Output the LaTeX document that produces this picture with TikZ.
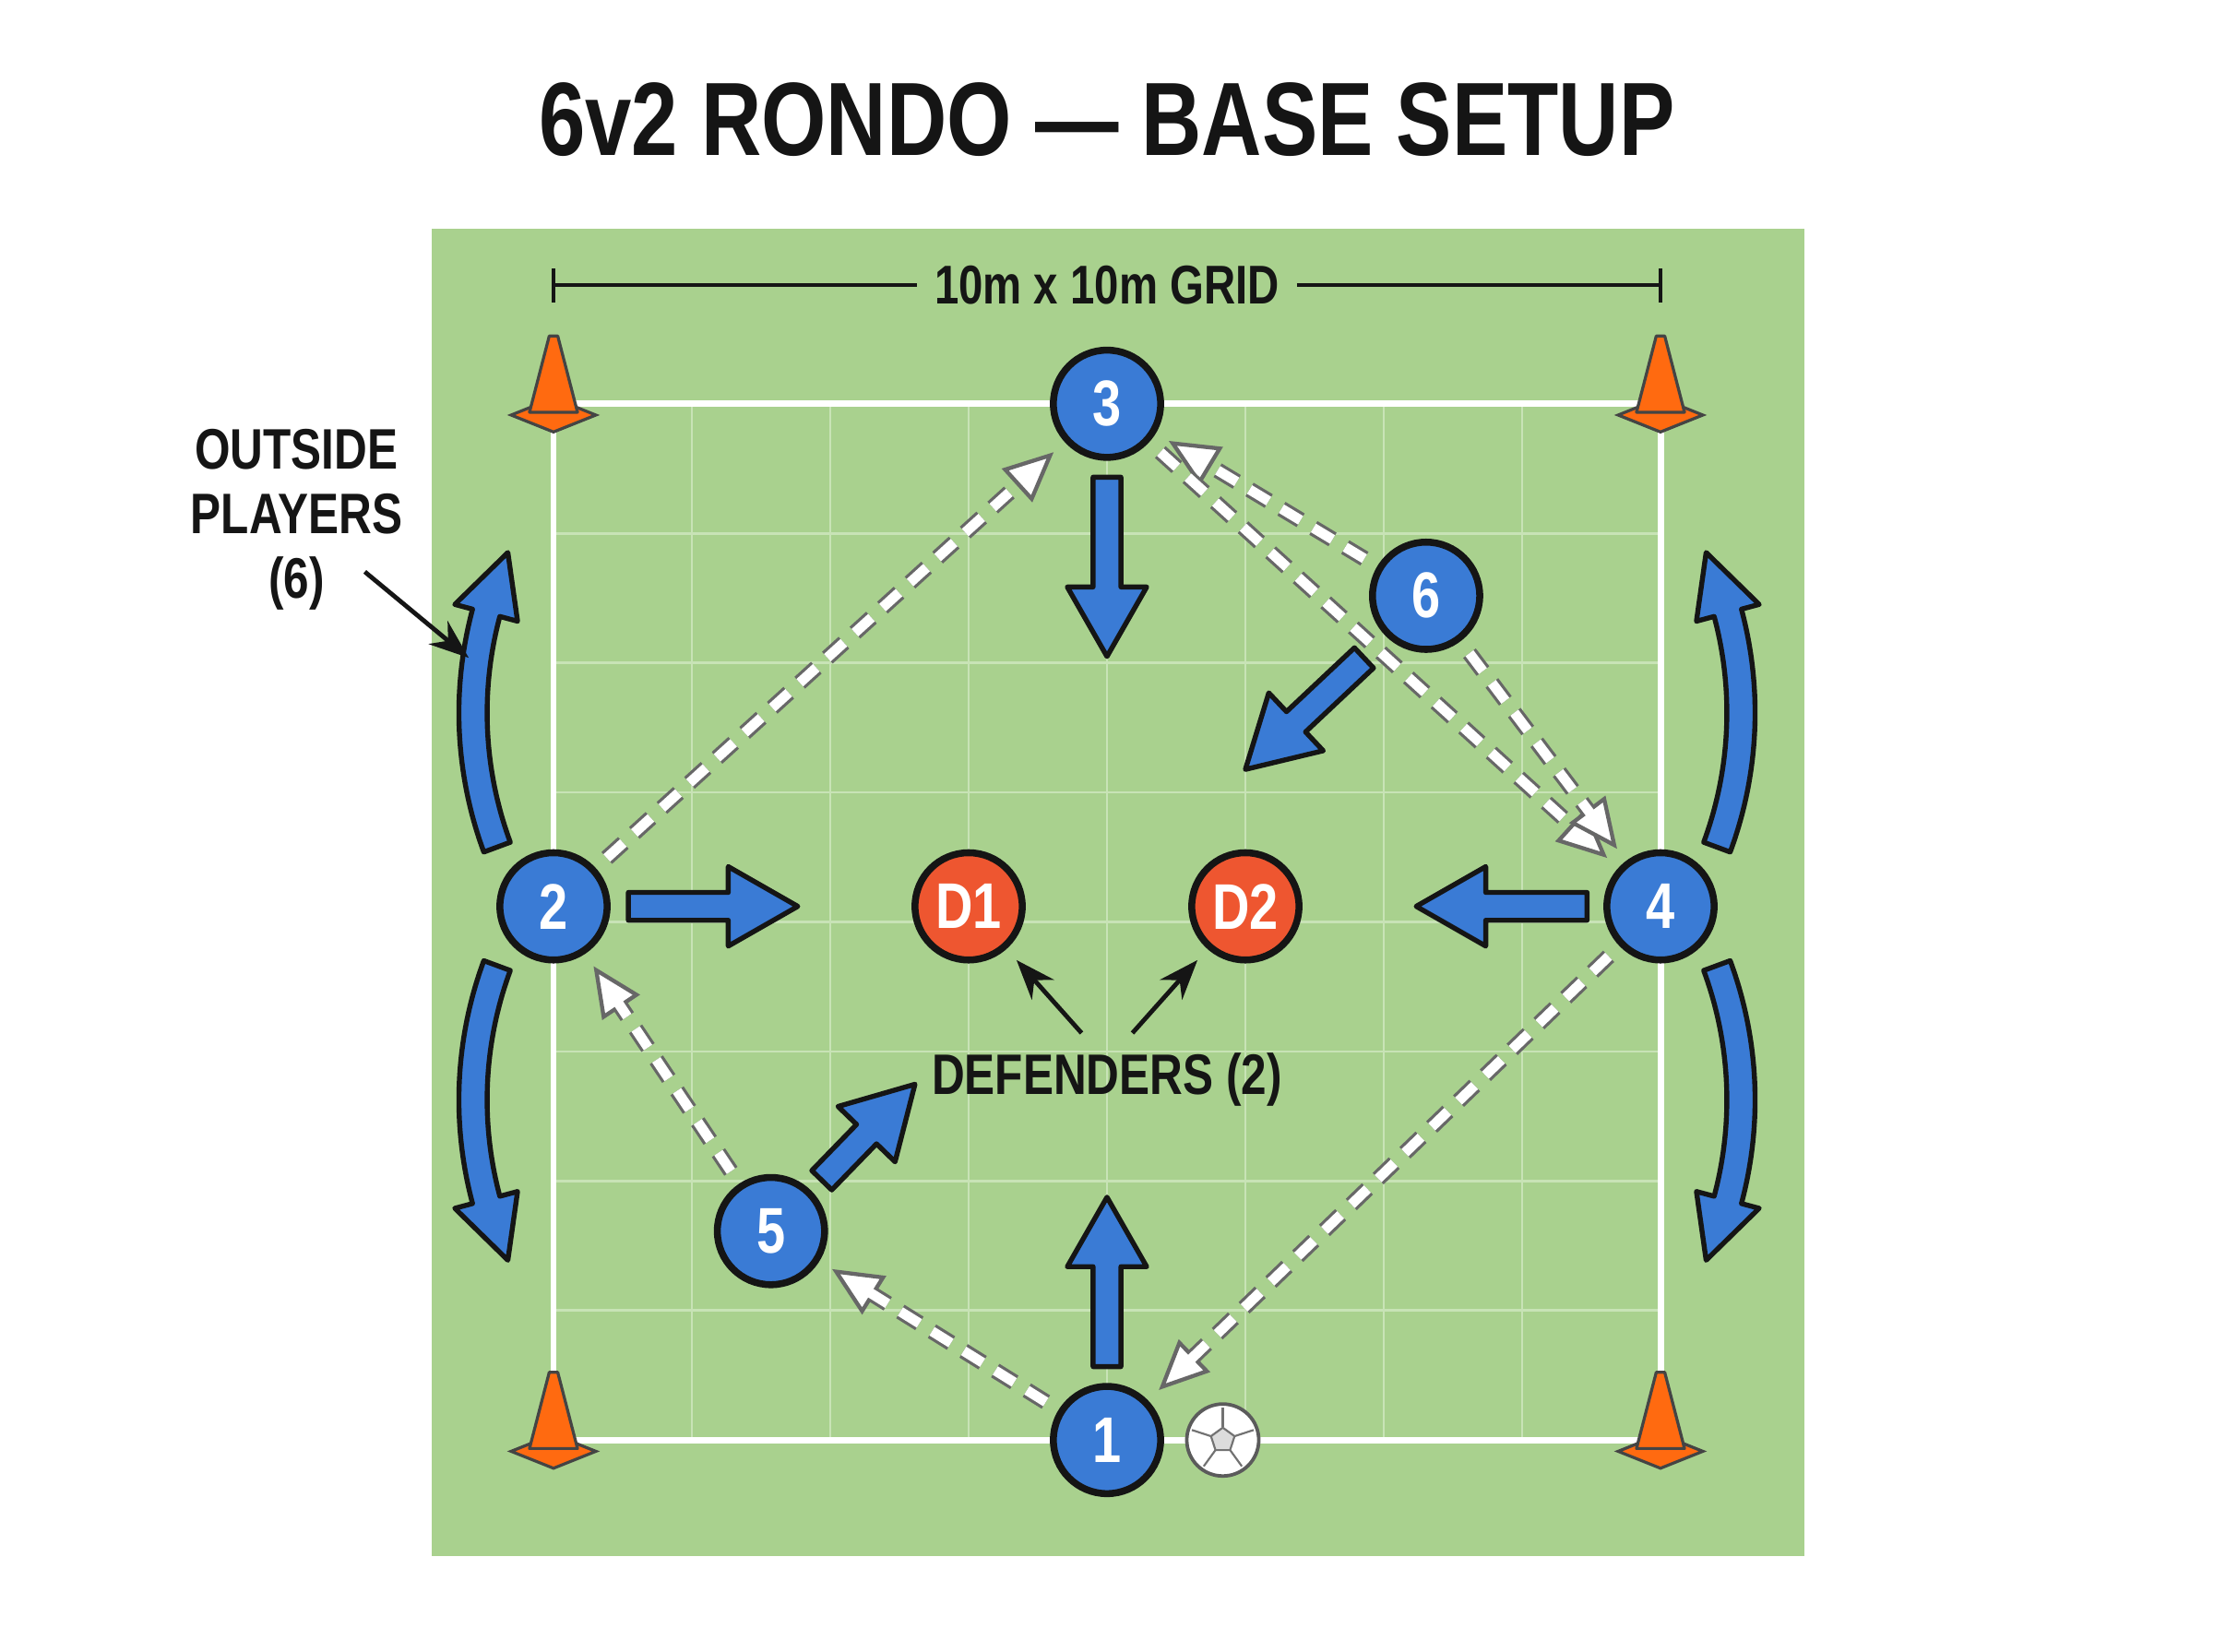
\documentclass[tikz,border=0pt]{standalone}
\usepackage{fontspec}
\setmainfont{Liberation Sans}[FakeStretch=0.8]
\usetikzlibrary{calc,arrows.meta,shapes.geometric}
\definecolor{pitch}{HTML}{A9D18E}
\definecolor{gridline}{HTML}{C8E3B6}
\definecolor{playerblue}{HTML}{3A7BD5}
\definecolor{defred}{HTML}{EE5630}
\definecolor{coneorange}{HTML}{FF6A10}
\definecolor{ink}{HTML}{151515}

% fat straight arrow between two named points
\newcommand{\fatarrow}[2]{%
  \coordinate (fa-h) at ($(#2)!14pt!(#1)$);
  \filldraw[fatarrow] ($(#1)!2.8pt!90:(#2)$) -- ($(fa-h)!2.8pt!90:(#2)$)
    -- ($(fa-h)!8pt!90:(#2)$) -- (#2) -- ($(fa-h)!8pt!-90:(#2)$)
    -- ($(fa-h)!2.8pt!-90:(#2)$) -- ($(#1)!2.8pt!-90:(#2)$) -- cycle;}
% curved arrow: centre, start angle, head angle, tip angle
\newcommand{\bendarrow}[4]{%
  \filldraw[fatarrow] ([shift={(#1)}]#2:284) arc[start angle=#2, end angle=#3, radius=284]
    -- ([shift={(#1)}]#3:297) -- ([shift={(#1)}]#4:274) -- ([shift={(#1)}]#3:251)
    -- ([shift={(#1)}]#3:264) arc[start angle=#3, end angle=#2, radius=264] -- cycle;}
% cone at a corner
\newcommand{\cone}[2]{%
  \coordinate (#1) at (#2);
  \filldraw[fill=coneorange, draw=ink!80, line width=0.6pt] ($(#1)+(-30,-8)$) -- ($(#1)+(0,4)$) -- ($(#1)+(30,-8)$) -- ($(#1)+(0,-20)$) -- cycle;
  \filldraw[fill=coneorange, draw=ink!80, line width=0.6pt, line join=round] ($(#1)+(-17,-6)$) -- ($(#1)+(-3,48)$) -- ($(#1)+(3,48)$) -- ($(#1)+(17,-6)$) -- cycle;}

\begin{document}
\begin{tikzpicture}[x=0.01cm, y=0.01cm,
  player/.style = {circle, draw=ink, line width=1.4pt, fill=playerblue, minimum size=21.6pt, inner sep=0pt, text=white, font=\bfseries\fontsize{13}{13}\selectfont},
  defender/.style = {player, fill=defred},
  fatarrow/.style = {fill=playerblue, draw=ink, line width=1pt, line join=round},
  passdark/.style = {draw=ink!65, line width=3.2pt, dash pattern=on 4.5pt off 3pt, shorten <=3pt, shorten >=3pt,
    -{Triangle[length=10pt, width=9pt, fill=white, line width=0.8pt]}},
  passlight/.style = {draw=white, line width=2pt, dash pattern=on 4.5pt off 3pt, shorten <=3pt, shorten >=12pt},
  label/.style = {font=\bfseries\fontsize{11.5}{13}\selectfont, text=ink, align=center}]
  \useasboundingbox[fill=white] (0,0) rectangle (1568,1170);

  \node[font=\bfseries\fontsize{21}{21}\selectfont, text=ink] (title) at (784,1085) {6v2 RONDO — BASE SETUP};

  % pitch and grid
  \fill[pitch] (306,68) rectangle (1278,1008);
  \foreach \x in {490,588,686,784,882,980,1078}
    \draw[gridline, line width=0.5pt] (\x,150) -- (\x,884);
  \foreach \i in {1,...,7}
    \draw[gridline, line width=0.5pt] (392,150+\i*91.75) -- (1176,150+\i*91.75);
  \draw[white, line width=1.3pt] (392,150) rectangle (1176,884);

  % dimension
  \node[label, fill=pitch, font=\bfseries\fontsize{11}{11}\selectfont] (dim) at (784,968) {10m x 10m GRID};
  \coordinate (dl) at (392,968);
  \coordinate (dr) at (1176,968);
  \draw[ink, line width=0.7pt] (dl) -- (dim.west) (dim.east) -- (dr);
  \draw[ink, line width=0.7pt] ($(dl)+(0,-12)$) -- ($(dl)+(0,12)$) ($(dr)+(0,-12)$) -- ($(dr)+(0,12)$);

  \cone{c1}{392,884}
  \cone{c2}{1176,884}
  \cone{c3}{392,150}
  \cone{c4}{1176,150}

  % players
  \node[player] (p1) at (784,150) {1};
  \node[player] (p2) at (392,528) {2};
  \node[player] (p3) at (784,884) {3};
  \node[player] (p4) at (1176,528) {4};
  \node[player] (p5) at (546,298) {5};
  \node[player] (p6) at (1010,748) {6};
  \node[defender] (d1) at (686,528) {D1};
  \node[defender] (d2) at (882,528) {D2};

  % ball
  \node[circle, draw=ink!70, fill=white, line width=0.7pt, minimum size=14.5pt, inner sep=0pt] (ball) at (866,150) {};
  \node[regular polygon, regular polygon sides=5, draw=ink!60, fill=ink!15, line width=0.4pt, minimum size=5pt, inner sep=0pt] (ballc) at (ball) {};
  \foreach \a in {18,90,162,234,306}
    \draw[ink!60, line width=0.4pt] (ballc.center) ++(\a:9) -- ++(\a:14);

  % passes
  \foreach \a/\b in {p2/p3, p6/p3, p3/p4, p6/p4, p4/p1, p1/p5, p5/p2} {
    \draw[passdark] (\a) -- (\b);
    \draw[passlight] (\a) -- (\b);
  }

  % runs
  \coordinate (r3a) at (784,832);   \coordinate (r3b) at (784,705);
  \coordinate (r2a) at (445,528);   \coordinate (r2b) at (565,528);
  \coordinate (r4a) at (1124,528);  \coordinate (r4b) at (1003,528);
  \coordinate (r1a) at (784,202);   \coordinate (r1b) at (784,322);
  \coordinate (r5a) at (582,334);   \coordinate (r5b) at (648,402);
  \coordinate (r6a) at (966,704);   \coordinate (r6b) at (882,625);
  \fatarrow{r3a}{r3b}
  \fatarrow{r2a}{r2b}
  \fatarrow{r4a}{r4b}
  \fatarrow{r1a}{r1b}
  \fatarrow{r5a}{r5b}
  \fatarrow{r6a}{r6b}

  % rotation
  \bendarrow{609,665}{200.3}{165}{155.5}
  \bendarrow{609,391}{159.7}{195}{204.5}
  \bendarrow{959,665}{-20.3}{15}{24.5}
  \bendarrow{959,391}{20.3}{-15}{-24.5}

  % labels
  \node[label] (outside) at (210,802) {OUTSIDE\\PLAYERS\\(6)};
  \coordinate (outtip) at (332,704);
  \draw[ink, line width=0.9pt, -{Stealth[length=8pt, width=6pt]}] ($(outside.east)+(-39,-37)$) -- (outtip);

  \node[label] (defs) at (784,405) {DEFENDERS (2)};
  \draw[ink, line width=0.9pt, -{Stealth[length=8pt, width=6pt]}, shorten >=3pt] ($(defs.north)+(-18,2)$) -- (d1);
  \draw[ink, line width=0.9pt, -{Stealth[length=8pt, width=6pt]}, shorten >=3pt] ($(defs.north)+(18,2)$) -- (d2);
\end{tikzpicture}
\end{document}
